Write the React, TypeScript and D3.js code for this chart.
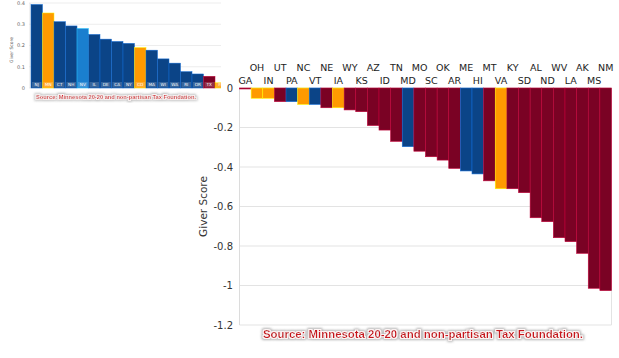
import * as d3 from "d3";

// main chart: states that receive more than they pay (negative giver score)
const mainStates = ["GA", "OH", "IN", "UT", "PA", "NC", "VT", "NE", "IA", "WY", "KS", "AZ", "ID", "TN", "MD", "MO",
  "SC", "OK", "AR", "ME", "HI", "MT", "VA", "KY", "SD", "AL", "ND", "WV", "LA", "AK", "MS", "NM"];
const mainValues = [-0.005, -0.052, -0.052, -0.069, -0.069, -0.083, -0.083, -0.1, -0.1, -0.111, -0.12, -0.19,
  -0.213, -0.27, -0.297, -0.32, -0.348, -0.365, -0.407, -0.42, -0.435, -0.47, -0.51, -0.51, -0.53, -0.657,
  -0.677, -0.758, -0.778, -0.837, -1.014, -1.026];
const mainGroups = ["R", "S", "S", "R", "D", "S", "D", "R", "S", "R", "R", "R", "R", "R", "D", "R",
  "R", "R", "R", "D", "D", "R", "S", "R", "R", "R", "R", "R", "R", "R", "R", "R"];
const mainTicks = [0, -0.2, -0.4, -0.6, -0.8, -1, -1.2];

// small inset chart: giver states
const insetStates = ["NJ", "MN", "CT", "NH", "NV", "IL", "DE", "CA", "NY", "CO", "MA", "WI", "WA", "RI", "OR", "TX", "FL"];
const insetValues = [0.393, 0.353, 0.312, 0.292, 0.28, 0.252, 0.23, 0.219, 0.21, 0.19, 0.178, 0.137, 0.117,
  0.077, 0.066, 0.055, 0.025];
const insetGroups = ["D", "S", "D", "D", "L", "D", "D", "D", "D", "S", "D", "D", "D", "D", "D", "R", "S"];
const insetTicks = [0, 0.1, 0.2, 0.3, 0.4];

const source = "Source: Minnesota 20-20 and non-partisan Tax Foundation.";

const colors: Record<string, string> = {
  D: "#0b4487",
  S: "#ff9a00",
  R: "#7a0224",
  L: "#1a7fcf",
};

function strokeOf(c: string) {
  return d3.color(c)!.brighter(1.3).formatHex();
}

export default function App() {
  // main chart scales
  const x = d3.scaleBand<string>().domain(mainStates).range([239.5, 611.5]).padding(0);
  const y = d3.scaleLinear().domain([-1.2, 0]).range([325, 88]);

  // inset scales
  const xi = d3.scaleBand<string>().domain(insetStates).range([31, 31 + 17 * 11.5]).padding(0);
  const yi = d3.scaleLinear().domain([0, 0.4]).range([88, 3]);

  const font = "'DejaVu Sans', Verdana, sans-serif";

  return (
    <div style={{ position: "absolute", left: 0, top: 0 }}>
      <svg width={619} height={358} style={{ display: "block", background: "#fff" }}>
        <defs>
          <clipPath id="insetClip">
            <rect x={0} y={0} width={221} height={104} />
          </clipPath>
          <filter id="halo" x="-5%" y="-50%" width="110%" height="200%">
            <feMorphology in="SourceAlpha" operator="dilate" radius={1.6} result="d" />
            <feGaussianBlur in="d" stdDeviation={0.9} result="b" />
            <feFlood floodColor="#9a9a9a" floodOpacity={0.75} />
            <feComposite in2="b" operator="in" result="shadow" />
            <feMorphology in="SourceAlpha" operator="dilate" radius={1} result="w" />
            <feFlood floodColor="#fff6f6" />
            <feComposite in2="w" operator="in" result="white" />
            <feMerge>
              <feMergeNode in="shadow" />
              <feMergeNode in="white" />
              <feMergeNode in="SourceGraphic" />
            </feMerge>
          </filter>
        </defs>

        {/* inset chart */}
        <g clipPath="url(#insetClip)">
          {insetTicks.map((t) => (
            <g key={t}>
              <line x1={29} x2={221} y1={yi(t)} y2={yi(t)} stroke="#e8e8e8" strokeWidth={0.8} />
              <text x={25} y={yi(t) + 1.8} fontSize={5} fill="#666" textAnchor="end" fontFamily={font}>
                {t === 0 ? "0" : String(t)}
              </text>
            </g>
          ))}
          <line x1={30} x2={30} y1={yi(0.4)} y2={yi(0)} stroke="#ddd" strokeWidth={0.8} />
          <text transform={`translate(13,50) rotate(-90)`} fontSize={4.5} fill="#555" textAnchor="middle" fontFamily={font}>
            Giver Score
          </text>
          {insetStates.map((s, i) => (
            <g key={s}>
              <rect x={xi(s)!} y={yi(insetValues[i])} width={xi.bandwidth()} height={yi(0) - yi(insetValues[i])}
                fill={colors[insetGroups[i]]} stroke={strokeOf(colors[insetGroups[i]])} strokeWidth={0.5} />
              <rect x={xi(s)! + 1} y={82} width={xi.bandwidth() - 2} height={5.5} fill="#fff" opacity={0.18} />
              <text x={xi(s)! + xi.bandwidth() / 2} y={86.3} fontSize={4.2} fill="#fff" textAnchor="middle" fontFamily={font}>
                {s}
              </text>
            </g>
          ))}
          <text x={116} y={98.5} fontSize={5.6} fill="#d3242c" textAnchor="middle" fontFamily="'Liberation Sans', Arial, sans-serif"
            fontWeight="bold" textLength={160} lengthAdjust="spacingAndGlyphs" filter="url(#halo)">
            {source}
          </text>
        </g>

        {/* main chart grid */}
        {mainTicks.map((t) => (
          <g key={t}>
            <line x1={239.5} x2={611.5} y1={y(t)} y2={y(t)} stroke="#e3e3e3" strokeWidth={1} />
            <text x={233} y={y(t) + 3.6} fontSize={10} fill="#333" textAnchor="end" fontFamily={font}>
              {String(t)}
            </text>
          </g>
        ))}
        <line x1={239.5} x2={239.5} y1={y(0)} y2={y(-1.2)} stroke="#dcdcdc" />
        <line x1={611.5} x2={611.5} y1={y(0)} y2={y(-1.2)} stroke="#e3e3e3" />

        <text transform={`translate(207,${y(-0.6)}) rotate(-90)`} fontSize={10.5} fill="#333" textAnchor="middle" fontFamily={font}>
          Giver Score
        </text>

        {/* bars */}
        {mainStates.map((s, i) => (
          <rect key={s} x={x(s)!} y={y(0)} width={x.bandwidth()} height={y(mainValues[i]) - y(0)}
            fill={colors[mainGroups[i]]} stroke={strokeOf(colors[mainGroups[i]])} strokeWidth={0.6} />
        ))}

        {/* state labels in two staggered rows */}
        {mainStates.map((s, i) => (
          <text key={s} x={x(s)! + x.bandwidth() / 2} y={i % 2 === 0 ? 83.5 : 71} fontSize={9.5} fill="#222"
            textAnchor="middle" fontFamily={font}>
            {s}
          </text>
        ))}

        <text x={423} y={338} fontSize={11.5} fill="#c8141f" textAnchor="middle" fontFamily="'Liberation Sans', Arial, sans-serif"
          fontWeight="bold" textLength={320} lengthAdjust="spacingAndGlyphs" filter="url(#halo)">
          {source}
        </text>
      </svg>
    </div>
  );
}
